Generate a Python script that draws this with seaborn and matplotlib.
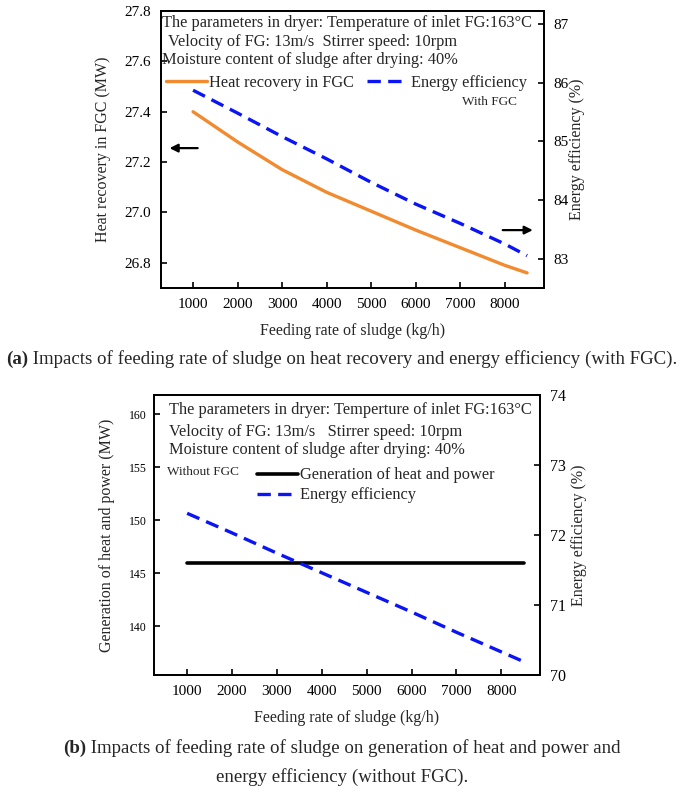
import matplotlib
matplotlib.use("Agg")
import matplotlib.pyplot as plt
import seaborn as sns
import pandas as pd

# data
feed = [1000, 2000, 3000, 4000, 5000, 6000, 7000, 8000, 8500]
heat_recovery = [27.40, 27.28, 27.17, 27.08, 27.005, 26.93, 26.86, 26.79, 26.76]
eff_with_fgc = [85.87, 85.48, 85.08, 84.70, 84.30, 83.93, 83.60, 83.25, 83.05]
generation = [146, 146, 146, 146, 146, 146, 146, 146, 146]
eff_without_fgc = [72.31, 72.03, 71.74, 71.46, 71.18, 70.90, 70.61, 70.33, 70.19]
xticks = [1000, 2000, 3000, 4000, 5000, 6000, 7000, 8000]

df_a = pd.DataFrame({'feed': feed, 'heat': heat_recovery, 'eff': eff_with_fgc})
df_b = pd.DataFrame({'feed': feed, 'gen': generation, 'eff': eff_without_fgc})

sns.set_theme(style="ticks")
plt.rcParams['font.family'] = ['Liberation Serif', 'DejaVu Serif']

W, H = 685, 794
fig = plt.figure(figsize=(W / 100, H / 100), dpi=100)


def px_axes(l, t, r, b):
    return fig.add_axes([l / W, 1 - b / H, (r - l) / W, (b - t) / H])


orange = '#F28A30'
blue = '#0A14F5'
dash = (4, 2.2)
box_fs = 11.8


def style(ax, size):
    ax.tick_params(direction='in', length=4, width=1.2, labelsize=size, colors='black', pad=7)
    for s in ax.spines.values():
        s.set_linewidth(1.3)
        s.set_color('black')


# ---------- panel (a) ----------
ax1 = px_axes(161, 11, 544, 288)
ax2 = ax1.twinx()
sns.lineplot(data=df_a, x='feed', y='heat', ax=ax1, color=orange, linewidth=2.4,
             label='Heat recovery in FGC', legend=False)
sns.lineplot(data=df_a, x='feed', y='eff', ax=ax2, color=blue, linewidth=2.4,
             label='Energy efficiency', legend=False)
ax2.lines[0].set_dashes(dash)
ax1.set_xlim(280, 8880)
ax1.set_xticks(xticks)
ax1.set_ylim(26.7, 27.8)
ax1.set_yticks([26.8, 27.0, 27.2, 27.4, 27.6, 27.8])
ax1.set_yticklabels(['26.8', '27.0', '27.2', '27.4', '27.6', '27.8'])
ax2.set_ylim(82.5, 87.22)
ax2.set_yticks([83, 84, 85, 86, 87])
style(ax1, 11)
style(ax2, 11)
ax1.set_xlabel('Feeding rate of sludge (kg/h)', fontsize=11.5)
ax1.set_ylabel('Heat recovery in FGC (MW)', fontsize=11.5)
ax2.set_ylabel('Energy efficiency (%)', fontsize=11.5)
ax1.xaxis.set_label_coords(0.5, -0.125)
ax1.yaxis.set_label_coords(-0.13, 0.5)
ax2.yaxis.set_label_coords(1.066, 0.5)

ax1.text(0.003, 0.957, 'The parameters in dryer: Temperature of inlet FG:163°C',
         transform=ax1.transAxes, fontsize=box_fs, va='center', ha='left')
ax1.text(0.019, 0.888, 'Velocity of FG: 13m/s  Stirrer speed: 10rpm',
         transform=ax1.transAxes, fontsize=box_fs, va='center', ha='left')
ax1.text(0.003, 0.823, 'Moisture content of sludge after drying: 40%',
         transform=ax1.transAxes, fontsize=box_fs, va='center', ha='left')
ax1.text(0.859, 0.671, 'With FGC', transform=ax1.transAxes, fontsize=9.5,
         va='center', ha='center')
h = [ax1.lines[0], ax2.lines[0]]
ax1.legend(h, [l.get_label() for l in h], ncol=2, frameon=False, fontsize=box_fs,
           loc='center left', bbox_to_anchor=(-0.005, 0.74), handlelength=2.5,
           columnspacing=0.8, handletextpad=0.15, borderaxespad=0)
ax1.annotate('', xy=(0.015, 0.505), xytext=(0.103, 0.505), xycoords='axes fraction',
             arrowprops=dict(arrowstyle='-|>', color='black', lw=1.6, mutation_scale=12))
ax1.annotate('', xy=(0.978, 0.209), xytext=(0.885, 0.209), xycoords='axes fraction',
             arrowprops=dict(arrowstyle='-|>', color='black', lw=1.6, mutation_scale=12))

# ---------- panel (b) ----------
bx1 = px_axes(154, 395, 540, 675)
bx2 = bx1.twinx()
sns.lineplot(data=df_b, x='feed', y='gen', ax=bx1, color='black', linewidth=2.6,
             label='Generation of heat and power', legend=False)
sns.lineplot(data=df_b, x='feed', y='eff', ax=bx2, color=blue, linewidth=2.4,
             label='Energy efficiency', legend=False)
bx2.lines[0].set_dashes(dash)
bx1.set_xlim(262, 8860)
bx1.set_xticks(xticks)
bx1.set_ylim(135.4, 161.8)
bx1.set_yticks([140, 145, 150, 155, 160])
bx2.set_ylim(70, 74)
bx2.set_yticks([70, 71, 72, 73, 74])
style(bx1, 11)
style(bx2, 11.5)
bx1.tick_params(axis='y', labelsize=8.5, pad=5)
bx1.set_xlabel('Feeding rate of sludge (kg/h)', fontsize=11.5)
bx1.set_ylabel('Generation of heat and power (MW)', fontsize=11.5)
bx2.set_ylabel('Energy efficiency (%)', fontsize=11.5)
bx1.xaxis.set_label_coords(0.5, -0.125)
bx1.yaxis.set_label_coords(-0.102, 0.5)
bx2.yaxis.set_label_coords(1.08, 0.5)

bx1.text(0.039, 0.946, 'The parameters in dryer: Temperture of inlet FG:163°C',
         transform=bx1.transAxes, fontsize=box_fs, va='center', ha='left')
bx1.text(0.039, 0.868, 'Velocity of FG: 13m/s   Stirrer speed: 10rpm',
         transform=bx1.transAxes, fontsize=box_fs, va='center', ha='left')
bx1.text(0.039, 0.804, 'Moisture content of sludge after drying: 40%',
         transform=bx1.transAxes, fontsize=box_fs, va='center', ha='left')
bx1.text(0.034, 0.726, 'Without FGC', transform=bx1.transAxes, fontsize=9.5,
         va='center', ha='left')
hb = [bx1.lines[0], bx2.lines[0]]
bx1.legend(hb, [l.get_label() for l in hb], ncol=1, frameon=False, fontsize=box_fs,
           loc='upper left', bbox_to_anchor=(0.25, 0.765), handlelength=2.5,
           handletextpad=0.15, borderaxespad=0, labelspacing=0.25)

# ---------- captions ----------
renderer = fig.canvas.get_renderer()
cap_fs = 13.6


def caption(label, rest, y, cx):
    t1 = fig.text(0, 1 - y / H, label, fontsize=cap_fs, fontweight='bold', va='center')
    t2 = fig.text(0, 1 - y / H, ' ' + rest, fontsize=cap_fs, va='center')
    w1 = t1.get_window_extent(renderer).width
    w2 = t2.get_window_extent(renderer).width
    x0 = cx - (w1 + w2) / 2
    t1.set_x(x0 / W)
    t2.set_x((x0 + w1) / W)


caption('(a)', 'Impacts of feeding rate of sludge on heat recovery and energy efficiency (with FGC).',
        359, 342)
caption('(b)', 'Impacts of feeding rate of sludge on generation of heat and power and', 748, 342)
fig.text(342 / W, 1 - 777 / H, 'energy efficiency (without FGC).', fontsize=cap_fs,
         ha='center', va='center')

fig.savefig('out.png', dpi=100)
